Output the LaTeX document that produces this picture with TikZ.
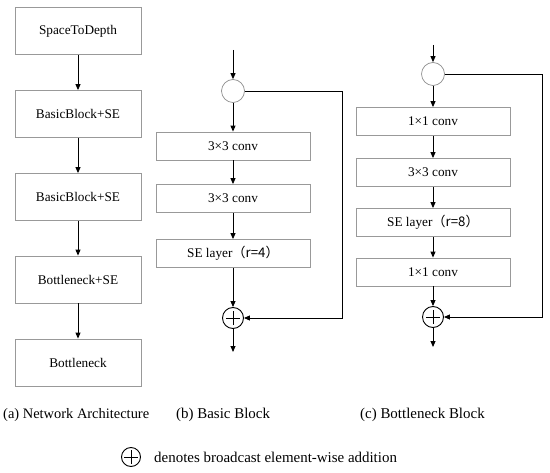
\documentclass[tikz,border=0pt]{standalone}
\usepackage{fontspec}
\setmainfont{Liberation Serif}
\newfontfamily\cjk{Noto Sans CJK SC}
\usetikzlibrary{arrows.meta}
\begin{document}
\begin{tikzpicture}[x=1bp,y=-1bp,
  box/.style={draw=black!40,line width=0.8bp,rectangle,inner sep=0pt,font=\fontsize{13.3}{15}\selectfont},
  bigbox/.style={box,minimum width=126bp,minimum height=47bp},
  smallbox/.style={box,minimum width=154bp,minimum height=28bp},
  splitc/.style={draw=black!45,line width=0.7bp,circle,minimum size=23bp,inner sep=0pt},
  plusc/.style={draw=black,line width=0.9bp,circle,minimum size=21bp,inner sep=0pt,
    path picture={\draw[line width=0.9bp] ([xshift=-7bp]path picture bounding box.center) -- ([xshift=7bp]path picture bounding box.center);
                  \draw[line width=0.9bp] ([yshift=-7bp]path picture bounding box.center) -- ([yshift=7bp]path picture bounding box.center);}},
  arr/.style={line width=0.9bp,-{Triangle[length=6bp,width=5bp]}},
  line/.style={line width=0.9bp},
  captext/.style={font=\fontsize{15}{17}\selectfont}
]
\useasboundingbox (0,0) rectangle (550,473);
% (a)
\node[bigbox] (a1) at (78,31) {SpaceToDepth};
\node[bigbox] (a2) at (78,114) {BasicBlock+SE};
\node[bigbox] (a3) at (78,197) {BasicBlock+SE};
\node[bigbox] (a4) at (78,279.5) {Bottleneck+SE};
\node[bigbox] (a5) at (78,362.5) {Bottleneck};
\draw[arr] (a1) -- (a2);
\draw[arr] (a2) -- (a3);
\draw[arr] (a3) -- (a4);
\draw[arr] (a4) -- (a5);
% (b)
\coordinate (inB) at (233,50);
\node[splitc] (c1) at (233,91) {};
\node[smallbox] (b1) at (233,146) {3×3 conv};
\node[smallbox] (b2) at (233,198.5) {3×3 conv};
\node[smallbox] (b3) at (233,253.5) {SE layer\cjk{（}r=4\cjk{）}};
\node[plusc] (p1) at (233,318) {};
\coordinate (outB) at (233,352);
\coordinate (skB) at (342,200);
\draw[arr] (inB) -- (c1);
\draw[arr] (c1) -- (b1);
\draw[arr] (b1) -- (b2);
\draw[arr] (b2) -- (b3);
\draw[arr] (b3) -- (p1);
\draw[arr] (p1) -- (outB);
\draw[line] (c1.east) -| (skB);
\draw[arr] (skB) |- (p1.east);
% (c)
\coordinate (inC) at (433,45);
\node[splitc] (c2) at (433,74) {};
\node[smallbox] (d1) at (433,121.5) {1×1 conv};
\node[smallbox] (d2) at (433,172.5) {3×3 conv};
\node[smallbox] (d3) at (433,222.5) {SE layer\cjk{（}r=8\cjk{）}};
\node[smallbox] (d4) at (433,272) {1×1 conv};
\node[plusc] (p2) at (433,317) {};
\coordinate (outC) at (433,347);
\coordinate (skC) at (542,200);
\draw[arr] (inC) -- (c2);
\draw[arr] (c2) -- (d1);
\draw[arr] (d1) -- (d2);
\draw[arr] (d2) -- (d3);
\draw[arr] (d3) -- (d4);
\draw[arr] (d4) -- (p2);
\draw[arr] (p2) -- (outC);
\draw[line] (c2.east) -| (skC);
\draw[arr] (skC) |- (p2.east);
% captions
\node[font=\fontsize{14.5}{17}\selectfont,anchor=west,inner sep=0pt] (capa) at (3,415) {(a) Network Architecture};
\node[captext,anchor=west,inner sep=0pt] (capb) at (176,415) {(b) Basic Block};
\node[captext,anchor=west,inner sep=0pt] (capc) at (360,415) {(c) Bottleneck Block};
\node[plusc,minimum size=19bp] (lp) at (131,457) {};
\node[captext,anchor=west,inner sep=0pt] (lt) at (154,457) {denotes broadcast element-wise addition};
\end{tikzpicture}
\end{document}
